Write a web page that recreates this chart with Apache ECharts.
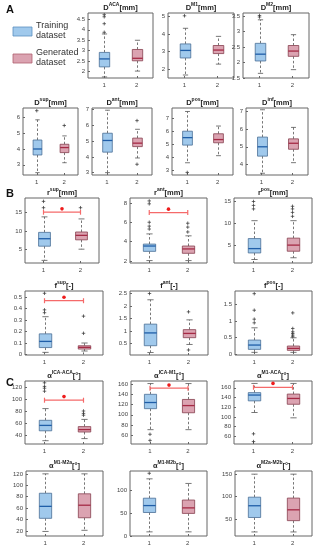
<!DOCTYPE html>
<html><head><meta charset="utf-8">
<script src="https://cdn.jsdelivr.net/npm/echarts@6/dist/echarts.min.js"></script>
<style>html,body{margin:0;padding:0;background:#fff}#c{width:318px;height:550px}</style>
</head><body><div id="c"></div>
<script>
// ---------------- DATA ----------------
const categories = ['1', '2'];
const titleBase = ['D','D','D','D','D','D','D','r','r','r','f','f','f','α','α','α','α','α','α'];
const titleSup = ['ACA','M1','M2','sup','ant','pos','inf','sup','ant','pos','sup','ant','pos',
  'ICA-ACA','ICA-M1','M1-ACA','M1-M2a','M1-M2b','M2a-M2b'];
const titleUnit = ['[mm]','[mm]','[mm]','[mm]','[mm]','[mm]','[mm]','[mm]','[mm]','[mm]',
  '[-]','[-]','[-]','[°]','[°]','[°]','[°]','[°]','[°]'];
const yMin = [1.7, 1.5, 1.5, 2.35, 2.85, 2.6, 3.4, 1.4, 1.8, 0.9, -0.005, 0.05, -0.03, 25, 43, 44, 11, 0, 13];
const yMax = [4.8, 5.2, 3.6, 6.6, 7.1, 7.8, 7.2, 18.8, 8.5, 15.8, 0.555, 2.6, 1.9, 130, 166, 174, 125, 141, 157];
const yTicks = [
  [2, 2.5, 3, 3.5, 4, 4.5], [2, 3, 4, 5], [1.5, 2, 2.5, 3, 3.5],
  [3, 4, 5, 6], [3, 4, 5, 6, 7], [3, 4, 5, 6, 7], [4, 5, 6, 7],
  [5, 10, 15], [2, 4, 6, 8], [5, 10, 15],
  [0, 0.1, 0.2, 0.3, 0.4, 0.5], [0.5, 1, 1.5, 2, 2.5], [0, 0.5, 1, 1.5],
  [40, 60, 80, 100, 120], [60, 80, 100, 120, 140, 160], [60, 80, 100, 120, 140, 160],
  [20, 40, 60, 80, 100, 120], [0, 50, 100], [50, 100, 150]
];
// [lower whisker, Q1, median, Q3, upper whisker]
const trainingStats = [
  [1.75, 2.23, 2.61, 2.92, 3.8], [1.67, 2.64, 3.07, 3.44, 4.33], [1.65, 2.05, 2.27, 2.62, 3.38],
  [2.5, 3.62, 4.0, 4.57, 5.85], [3.0, 4.3, 5.04, 5.5, 6.96], [3.55, 4.92, 5.5, 6.0, 7.53], [3.5, 4.47, 5.0, 5.55, 7.1],
  [2.1, 5.9, 7.9, 9.6, 13.75], [2.05, 3.0, 3.55, 3.75, 4.8], [1.7, 3.2, 4.2, 6.5, 10.6],
  [0.018, 0.06, 0.114, 0.18, 0.33], [0.15, 0.42, 0.93, 1.28, 2.25], [0.05, 0.14, 0.27, 0.42, 0.79],
  [30.5, 47, 56, 64.5, 84], [71, 112, 124, 140, 161], [109, 133, 145, 150, 169],
  [19, 42, 63, 86, 120], [9, 51, 66, 82, 124], [22, 54, 80, 99, 150]
];
const generatedStats = [
  [2.03, 2.52, 2.64, 3.06, 3.5], [2.29, 2.89, 3.09, 3.35, 3.87], [1.77, 2.2, 2.37, 2.55, 2.9],
  [3.13, 3.77, 4.09, 4.3, 4.83], [3.93, 4.65, 4.87, 5.19, 5.75], [4.1, 5.1, 5.35, 5.8, 6.4], [4.1, 4.86, 5.2, 5.45, 6.1],
  [5.1, 7.6, 8.8, 9.7, 13.2], [2.05, 2.8, 3.25, 3.55, 4.6], [2.1, 3.6, 5.0, 6.6, 10.6],
  [0.03, 0.047, 0.062, 0.076, 0.1], [0.47, 0.74, 0.91, 1.06, 1.45], [0.05, 0.11, 0.17, 0.24, 0.49],
  [34, 45, 49, 54, 66], [71, 104, 118, 130, 161], [98, 126, 138, 147, 169],
  [21, 43, 65, 85, 120], [9, 49, 61, 78, 114], [22, 47, 71, 97, 150]
];
const trainingOutliers = [
  [3.88, 4.29, 4.62, 4.72], [5.04], [3.47, 3.52],
  [6.43], [], [2.8], [],
  [16.2, 17.9], [5.3, 5.6, 6.0, 7.9, 8.2], [13.3, 14.1, 15],
  [0.365, 0.39, 0.535], [2.5], [0.94, 1.05, 1.32, 1.82],
  [113, 118, 121, 127], [50, 62], [49, 65],
  [], [136], []
];
const generatedOutliers = [
  [], [], [],
  [5.49], [6.3, 3.53], [], [],
  [16.2], [5.0, 5.5, 5.9], [11.6, 12.5, 13.3, 13.9],
  [0.185, 0.335], [1.77, 0.25], [0.52, 0.57, 0.62, 0.67, 0.77, 1.24],
  [73, 76, 80], [], [],
  [], [], []
];
// significance bar: [bar value, star value] or null
const sigBars = [
  null, null, null, null, null, null, null,
  [15, 15.9], [7.0, 7.35], null,
  [0.47, 0.5], null, null,
  [98, 104], [152, 158], [161, 169],
  null, null, null
];
const legendLabels = ['Training\ndataset', 'Generated\ndataset'];
const sectionLabels = ['A', 'B', 'C'];

// ---------------- LAYOUT / STYLE ----------------
const rects = [
  [88,13,153,78],[168,13,234,78],[243,13,309,78],
  [23,108,78,175],[92,108,152,175],[172,108,233,175],[246,108,308,175],
  [25,198,99,263],[130,198,207,263],[234,198,312,263],
  [25,291,103,355],[130,291,208,355],[235,291,312,355],
  [25,381,103,444],[131,381,207,444],[234,381,312,444],
  [26,471,103,536],[130,471,207,536],[235,471,312,536]
];
const sectionPos = [[6,4],[6,188],[6,377]];
const groupStyle = [
  {fill: '#a0c9ec', border: '#4a6f95', median: '#1f5ea8'},
  {fill: '#dba3b1', border: '#86404f', median: '#a52a45'}
];
const frameColor = '#666';

function boxRender(params, api) {
  const i = api.value(0);
  const lo = api.coord([i, api.value(1)]);
  const q1 = api.coord([i, api.value(2)]);
  const md = api.coord([i, api.value(3)]);
  const q3 = api.coord([i, api.value(4)]);
  const hi = api.coord([i, api.value(5)]);
  const band = api.size([1, 0])[0];
  const w = band * 0.32, cw = w * 0.5, x = Math.round(lo[0]) + 0.5;
  const c = groupStyle[i];
  const wk = {stroke: '#555', lineWidth: 0.8, lineDash: [2.5, 2]};
  const cap = {stroke: '#555', lineWidth: 0.8};
  return {type: 'group', children: [
    {type: 'line', shape: {x1: x, y1: q3[1], x2: x, y2: hi[1]}, style: wk},
    {type: 'line', shape: {x1: x, y1: q1[1], x2: x, y2: lo[1]}, style: wk},
    {type: 'line', shape: {x1: x - cw / 2, y1: hi[1], x2: x + cw / 2, y2: hi[1]}, style: cap},
    {type: 'line', shape: {x1: x - cw / 2, y1: lo[1], x2: x + cw / 2, y2: lo[1]}, style: cap},
    {type: 'rect', shape: {x: x - w / 2, y: q3[1], width: w, height: q1[1] - q3[1]},
      style: {fill: c.fill, stroke: c.border, lineWidth: 0.8}},
    {type: 'line', shape: {x1: x - w / 2, y1: md[1], x2: x + w / 2, y2: md[1]},
      style: {stroke: c.median, lineWidth: 1.3}}
  ]};
}
function sigRender(params, api) {
  const a = api.coord([api.value(0), api.value(2)]);
  const b = api.coord([api.value(1), api.value(2)]);
  const s = api.coord([(api.value(0) + api.value(1)) / 2, api.value(3)]);
  const st = {stroke: '#f56a6a', lineWidth: 1.2};
  return {type: 'group', children: [
    {type: 'line', shape: {x1: a[0], y1: a[1], x2: b[0], y2: b[1]}, style: st},
    {type: 'line', shape: {x1: a[0], y1: a[1] - 2.5, x2: a[0], y2: a[1] + 2.5}, style: st},
    {type: 'line', shape: {x1: b[0], y1: b[1] - 2.5, x2: b[0], y2: b[1] + 2.5}, style: st},
    {type: 'circle', shape: {cx: (a[0] + b[0]) / 2, cy: s[1], r: 1.8}, style: {fill: '#ee1c1c'}}
  ]};
}

const grid = [], xAxis = [], yAxis = [], series = [], graphic = [];
rects.forEach((r, k) => {
  grid.push({left: r[0], top: r[1], width: r[2] - r[0], height: r[3] - r[1],
    show: true, borderColor: frameColor, borderWidth: 1, backgroundColor: 'transparent', containLabel: false});
  xAxis.push({type: 'category', gridIndex: k, data: categories, boundaryGap: true,
    axisLine: {show: false}, splitLine: {show: false},
    axisTick: {show: true, inside: true, length: 2, alignWithLabel: true, lineStyle: {color: frameColor}},
    axisLabel: {fontSize: 6, color: '#444', margin: 4, fontFamily: 'Liberation Sans'}});
  yAxis.push({type: 'value', gridIndex: k, min: yMin[k], max: yMax[k],
    axisLine: {show: false}, splitLine: {show: false},
    axisTick: {show: true, inside: true, length: 2, customValues: yTicks[k], lineStyle: {color: frameColor}},
    axisLabel: {fontSize: 6, color: '#444', margin: 3, customValues: yTicks[k], fontFamily: 'Liberation Sans'}});
  series.push({type: 'custom', xAxisIndex: k, yAxisIndex: k, renderItem: boxRender,
    encode: {x: 0, y: [1, 2, 3, 4, 5]}, silent: true,
    data: [[0].concat(trainingStats[k]), [1].concat(generatedStats[k])]});
  const outs = trainingOutliers[k].map(v => [0, v]).concat(generatedOutliers[k].map(v => [1, v]));
  series.push({type: 'scatter', xAxisIndex: k, yAxisIndex: k, data: outs, silent: true,
    symbol: 'path://M0 5H10M5 0V10', symbolSize: 3.5,
    itemStyle: {color: 'transparent', borderColor: '#333', borderWidth: 0.9}});
  if (sigBars[k]) {
    series.push({type: 'custom', xAxisIndex: k, yAxisIndex: k, renderItem: sigRender, silent: true,
      encode: {x: [0, 1], y: [2, 3]}, data: [[0, 1, sigBars[k][0], sigBars[k][1]]]});
  }
  graphic.push({type: 'text', x: (r[0] + r[2]) / 2, y: r[1] - 1.5,
    style: {text: '{b|' + titleBase[k] + '}{s|' + titleSup[k] + '}{b|' + titleUnit[k] + '}',
      align: 'center', verticalAlign: 'bottom', fontFamily: 'Liberation Sans',
      rich: {b: {fontSize: 7.5, fontWeight: 'bold', fill: '#222', color: '#222', verticalAlign: 'bottom', lineHeight: 9, fontFamily: 'Liberation Sans'},
             s: {fontSize: 5, fontWeight: 'bold', fill: '#222', color: '#222', verticalAlign: 'top', lineHeight: 9, fontFamily: 'Liberation Sans'}}}});
});
// section letters
sectionLabels.forEach((t, i) => graphic.push({type: 'text', x: sectionPos[i][0], y: sectionPos[i][1],
  style: {text: t, fontSize: 11, fontWeight: 'bold', fill: '#111', fontFamily: 'Liberation Sans'}}));
// legend
[[13, 27], [13, 54]].forEach((p, i) => {
  graphic.push({type: 'rect', shape: {x: p[0], y: p[1], width: 19, height: 9},
    style: {fill: groupStyle[i].fill, stroke: i ? '#b06070' : '#5a8fc0', lineWidth: 0.8}});
  graphic.push({type: 'text', x: 36, y: p[1] - 6,
    style: {text: legendLabels[i], fontSize: 9, lineHeight: 10, fill: '#333', fontFamily: 'Liberation Sans'}});
});

const chart = echarts.init(document.getElementById('c'), null, {renderer: 'canvas'});
chart.setOption({animation: false, grid, xAxis, yAxis, series, graphic});
</script></body></html>
